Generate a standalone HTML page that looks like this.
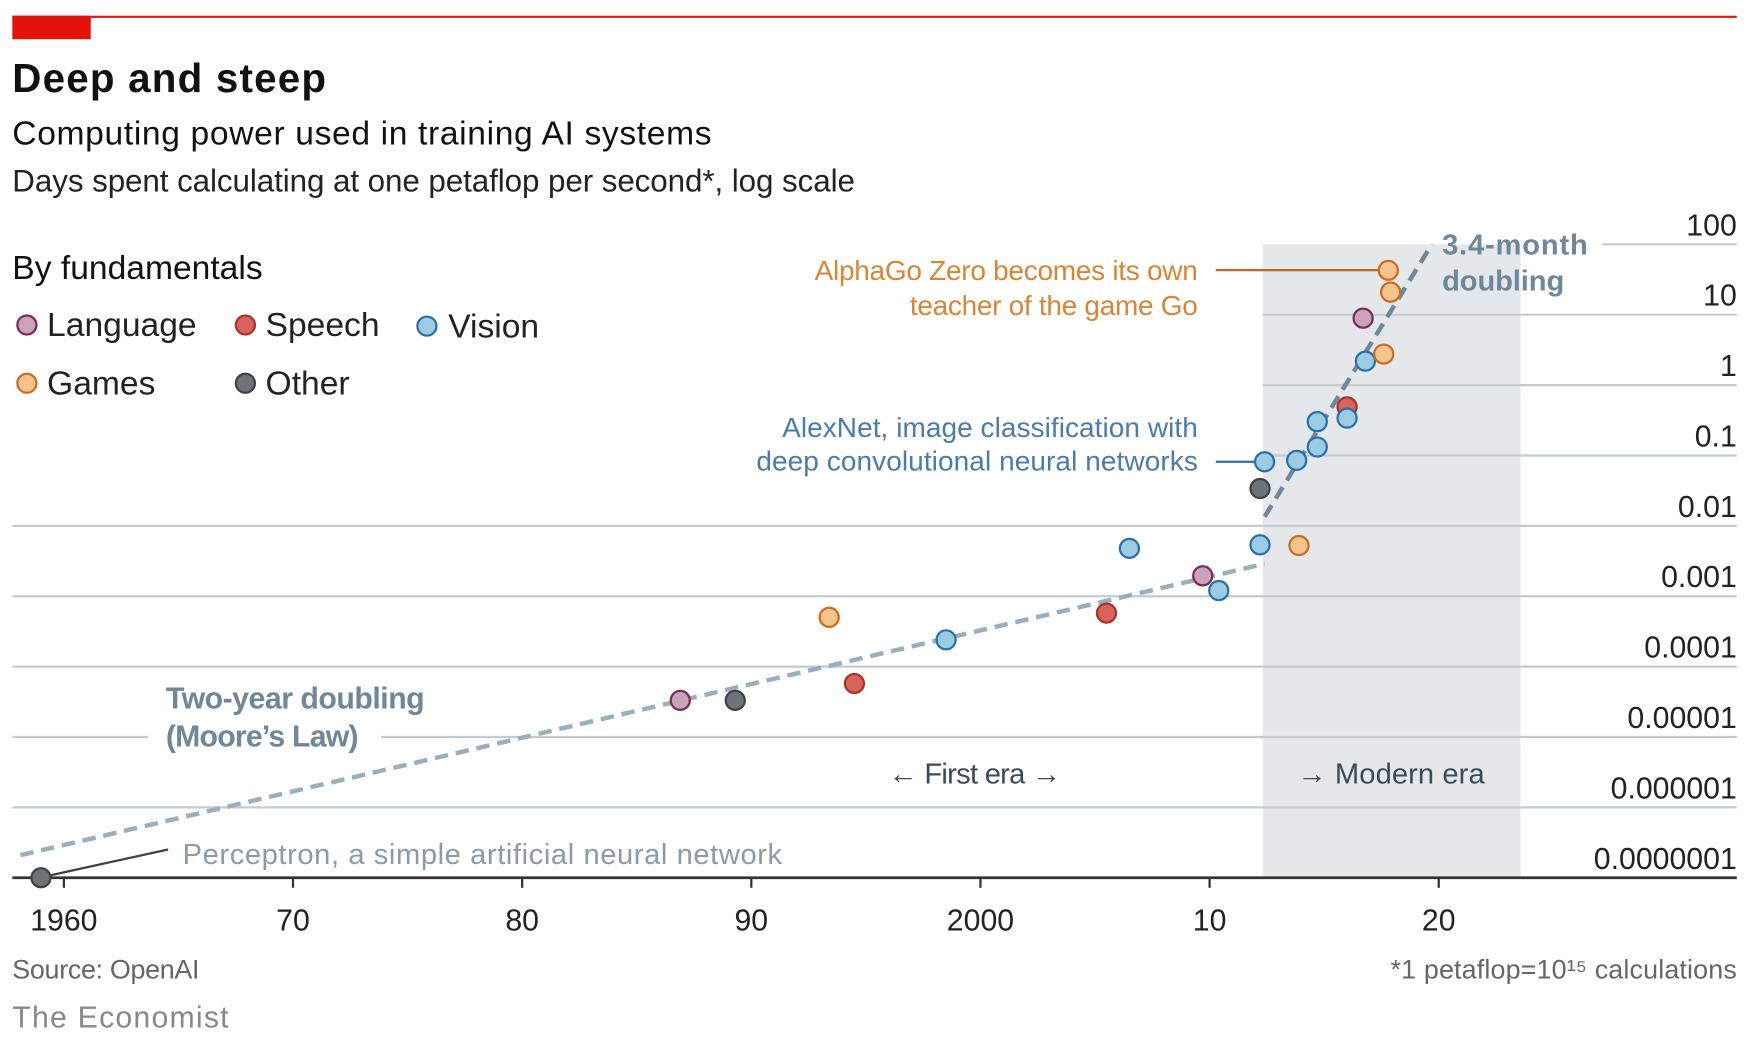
<!DOCTYPE html>
<html><head><meta charset="utf-8">
<style>
html,body{margin:0;padding:0;background:#fff;}
svg{display:block;}
text{font-family:"Liberation Sans",sans-serif;}
</style></head>
<body>
<svg id="chart" width="1748" height="1040" viewBox="0 0 1560 928" preserveAspectRatio="none" xmlns="http://www.w3.org/2000/svg">
<rect x="0" y="0" width="1560" height="928" fill="#fff"/>
<rect x="11" y="14" width="70" height="21" fill="#e3120b"/>
<line x1="11" y1="15" x2="1550" y2="15" stroke="#e3120b" stroke-width="2"/>
<text x="11" y="82" font-size="36" font-weight="bold" fill="#111" textLength="280">Deep and steep</text>
<text x="11" y="129" font-size="30" fill="#111" textLength="624">Computing power used in training AI systems</text>
<text x="11" y="171" font-size="28" fill="#222" textLength="752">Days spent calculating at one petaflop per second*, log scale</text>
<rect x="1127" y="218" width="230" height="565" fill="#e4e8eb"/>
<g id="grid"></g>
<g id="trend"></g>
<g id="annot">
<text x="11" y="249" font-size="30" fill="#111">By fundamentals</text>
<circle cx="24" cy="290" r="8.5" fill="#c9a3b8" stroke="#7b2a5c" stroke-width="2"/>
<text x="42" y="300" font-size="30" fill="#222">Language</text>
<circle cx="219" cy="290" r="8.5" fill="#d9625a" stroke="#a8332b" stroke-width="2"/>
<text x="237" y="300" font-size="30" fill="#222">Speech</text>
<circle cx="381" cy="291" r="8.5" fill="#9ccbe4" stroke="#2b6fa8" stroke-width="2"/>
<text x="400" y="301" font-size="30" fill="#222">Vision</text>
<circle cx="24" cy="342" r="8.5" fill="#f5c48c" stroke="#cc6a23" stroke-width="2"/>
<text x="42" y="352" font-size="30" fill="#222">Games</text>
<circle cx="219" cy="342" r="8.5" fill="#6d7378" stroke="#3c4246" stroke-width="2"/>
<text x="237" y="352" font-size="30" fill="#222">Other</text>

<text x="1069" y="250" font-size="25" fill="#d98535" text-anchor="end" textLength="342">AlphaGo Zero becomes its own</text>
<text x="1069" y="281" font-size="25" fill="#d98535" text-anchor="end" textLength="257">teacher of the game Go</text>
<line x1="1085" y1="241" x2="1232" y2="241" stroke="#c8622a" stroke-width="2"/>
<text x="1069" y="390" font-size="25" fill="#4a7bab" text-anchor="end" textLength="371">AlexNet, image classification with</text>
<text x="1069" y="420" font-size="25" fill="#4a7bab" text-anchor="end" textLength="394">deep convolutional neural networks</text>
<line x1="1085" y1="412" x2="1120" y2="412" stroke="#2b6fa8" stroke-width="2"/>
<text x="1287" y="227" font-size="26" font-weight="bold" fill="#6f8798" textLength="130">3.4-month</text>
<text x="1287" y="259" font-size="26" font-weight="bold" fill="#6f8798" textLength="109">doubling</text>
<text x="148" y="632" font-size="27" font-weight="bold" fill="#6f8798" textLength="231">Two-year doubling</text>
<text x="148" y="666" font-size="27" font-weight="bold" fill="#6f8798" textLength="172">(Moore’s Law)</text>
<text x="163" y="771" font-size="26" fill="#8b9aa5" textLength="535">Perceptron, a simple artificial neural network</text>
<line x1="36" y1="783" x2="150" y2="758" stroke="#3c4246" stroke-width="2"/>
<text x="870" y="699" font-size="26" fill="#3b4a55" text-anchor="middle" textLength="154">← First era →</text>
<text x="1158" y="699" font-size="26" fill="#3b4a55" textLength="167">→ Modern era</text>
<text x="11" y="873" font-size="24" fill="#666" textLength="167">Source: OpenAI</text>
<text x="11" y="917" font-size="27" font-family="Liberation Serif, serif" fill="#888" textLength="193">The Economist</text>
<text x="1550" y="873" font-size="24" fill="#666" text-anchor="end" textLength="309">*1 petaflop=10¹⁵ calculations</text>
</g>
<g id="axis"></g>
<g id="points"></g>
</svg>
<script>
const tickExps = [2,1,0,-1,-2,-3,-4,-5,-6,-7];
const tickLabels = ["100","10","1","0.1","0.01","0.001","0.0001","0.00001","0.000001","0.0000001"];
const yearTicks = [1960,1970,1980,1990,2000,2010,2020];
const yearLabels = ["1960","70","80","90","2000","10","20"];
const categories = ["language","speech","vision","games","other"];
const fills = {language:"#c9a3b8",speech:"#d9625a",vision:"#9ccbe4",games:"#f5c48c",other:"#6d7378"};
const strokes = {language:"#7b2a5c",speech:"#a8332b",vision:"#2b6fa8",games:"#cc6a23",other:"#3c4246"};
const pointYears = [1959.0,1986.9,1989.3,1993.4,1994.5,1998.5,2005.5,2006.5,2009.7,2010.4,2012.2,2013.9,2012.2,2012.4,2013.8,2014.7,2014.7,2016.0,2016.0,2016.8,2017.6,2016.7,2017.9,2017.8];
const pointExps = [-7,-4.48,-4.48,-3.30,-4.24,-3.62,-3.24,-2.32,-2.71,-2.92,-2.27,-2.28,-1.47,-1.09,-1.07,-0.88,-0.52,-0.31,-0.47,0.34,0.44,0.95,1.32,1.63];
const pointCats = ["other","language","other","games","speech","vision","speech","vision","language","vision","vision","games","other","vision","vision","vision","vision","speech","vision","vision","games","language","games","games"];
const mooreYears = [1958.1,2012.4];
const mooreExps = [-6.68,-2.54];
const modernYears = [2012.4,2019.7];
const modernExps = [-1.87,2.0];

const NS="http://www.w3.org/2000/svg";
const xs = y => 57 + (y-1960)*20.45;
const ys = e => 218 + (2-e)*62.8;
function mk(tag, attrs, parent){const el=document.createElementNS(NS,tag);for(const k in attrs)el.setAttribute(k,attrs[k]);document.getElementById(parent).appendChild(el);return el;}

tickExps.forEach((e,i)=>{
  const y=ys(e);
  if(e<-6.5){}
  else if(e===2){
    const l=mk("line",{x1:1430,y1:y,x2:1550,y2:y,stroke:"#c3ccd3","stroke-width":2},"grid");
    
    
  } else if(e===-5){
    const l=mk("line",{x1:11,y1:y,x2:132,y2:y,stroke:"#c3ccd3","stroke-width":2},"grid");
    
    
    const l2=mk("line",{x1:340,y1:y,x2:1550,y2:y,stroke:"#c3ccd3","stroke-width":2},"grid");
    
    
  } else {
    const x1 = e>=-1 ? 1127 : 11;
    const l=mk("line",{x1:x1,y1:y,x2:1550,y2:y,stroke:"#c3ccd3","stroke-width":2},"grid");
    
    
  }
  const t=mk("text",{x:1550,y:y-8,"font-size":27,fill:"#222","text-anchor":"end"},"axis");
  t.textContent=tickLabels[i];
  
  
});
const ax=mk("line",{x1:11,y1:ys(-7),x2:1550,y2:ys(-7),stroke:"#333","stroke-width":2.5},"axis");


yearTicks.forEach((yr,i)=>{
  const x=xs(yr);
  const tk=mk("line",{x1:x,y1:ys(-7),x2:x,y2:ys(-7)+9,stroke:"#333","stroke-width":2},"axis");
  
  
  const t=mk("text",{x:x,y:ys(-7)+47,"font-size":27,fill:"#222","text-anchor":"middle"},"axis");
  t.textContent=yearLabels[i];
  
  
});
const m=mk("line",{x1:xs(mooreYears[0]),y1:ys(mooreExps[0]),x2:xs(mooreYears[1]),y2:ys(mooreExps[1]),stroke:"#9aafbd","stroke-width":4,"stroke-dasharray":"12 7"},"trend");


const md=mk("line",{x1:xs(modernYears[0]),y1:ys(modernExps[0]),x2:xs(modernYears[1]),y2:ys(modernExps[1]),stroke:"#6f8798","stroke-width":4,"stroke-dasharray":"12 7"},"trend");


pointYears.forEach((yr,i)=>{
  const c=pointCats[i];
  const p=mk("circle",{cx:xs(yr),cy:ys(pointExps[i]),r:8.5,fill:fills[c],stroke:strokes[c],"stroke-width":2},"points");
  
  
});
</script>
</body></html>
